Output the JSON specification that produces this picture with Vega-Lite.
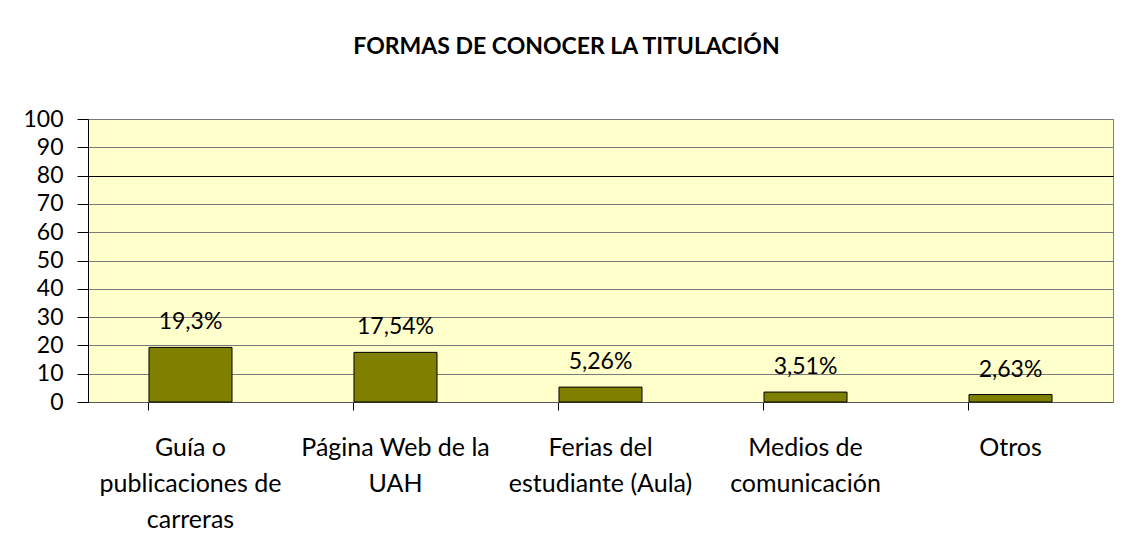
{
  "$schema": "https://vega.github.io/schema/vega-lite/v6.json",
  "autosize": "none",
  "width": 1025,
  "height": 283,
  "padding": {"left": 88, "top": 119, "right": 10, "bottom": 147},
  "background": "white",
  "title": {
    "text": "FORMAS DE CONOCER LA TITULACIÓN",
    "font": "Lato",
    "fontSize": 23,
    "fontWeight": "bold",
    "color": "black",
    "anchor": "middle",
    "dx": -34,
    "offset": 49
  },
  "data": {
    "values": [
      {"forma": "Guía o publicaciones de carreras", "valor": 19.3, "etiqueta": "19,3%"},
      {"forma": "Página Web de la UAH", "valor": 17.54, "etiqueta": "17,54%"},
      {"forma": "Ferias del estudiante (Aula)", "valor": 5.26, "etiqueta": "5,26%"},
      {"forma": "Medios de comunicación", "valor": 3.51, "etiqueta": "3,51%"},
      {"forma": "Otros", "valor": 2.63, "etiqueta": "2,63%"}
    ]
  },
  "encoding": {
    "x": {
      "field": "forma",
      "type": "nominal",
      "sort": null,
      "scale": {"paddingInner": 0.595, "paddingOuter": 0.2975},
      "axis": {
        "title": null,
        "labelAngle": 0,
        "labelFont": "Lato",
        "labelFontSize": 25,
        "labelColor": "black",
        "labelLineHeight": 36,
        "labelPadding": 25,
        "labelLimit": 0,
        "labelBaseline": "top",
        "labelExpr": "datum.value == 'Guía o publicaciones de carreras' ? ['Guía o', 'publicaciones de', 'carreras'] : datum.value == 'Página Web de la UAH' ? ['Página Web de la', 'UAH'] : datum.value == 'Ferias del estudiante (Aula)' ? ['Ferias del', 'estudiante (Aula)'] : datum.value == 'Medios de comunicación' ? ['Medios de', 'comunicación'] : datum.value",
        "bandPosition": 0,
        "tickSize": 8,
        "tickColor": "black",
        "domainColor": "#555555",
        "grid": false
      }
    },
    "y": {
      "field": "valor",
      "type": "quantitative",
      "scale": {"domain": [0, 100], "nice": false},
      "axis": {
        "title": null,
        "values": [0, 10, 20, 30, 40, 50, 60, 70, 80, 90, 100],
        "labelFont": "Lato",
        "labelFontSize": 23,
        "labelColor": "black",
        "labelPadding": 14,
        "tickSize": 11,
        "tickColor": "black",
        "domainColor": "black",
        "grid": true,
        "gridColor": {"condition": {"test": "datum.value === 80", "value": "black"}, "value": "#7a7a7a"},
        "gridWidth": 1
      }
    }
  },
  "layer": [
    {
      "mark": {"type": "bar", "color": "#808000", "stroke": "black", "strokeWidth": 1}
    },
    {
      "mark": {"type": "text", "font": "Lato", "fontSize": 23, "color": "black", "baseline": "bottom", "dy": -13},
      "encoding": {"text": {"field": "etiqueta"}}
    }
  ],
  "config": {
    "view": {"fill": "#FFFFCC", "stroke": "#808080", "strokeWidth": 1}
  }
}
